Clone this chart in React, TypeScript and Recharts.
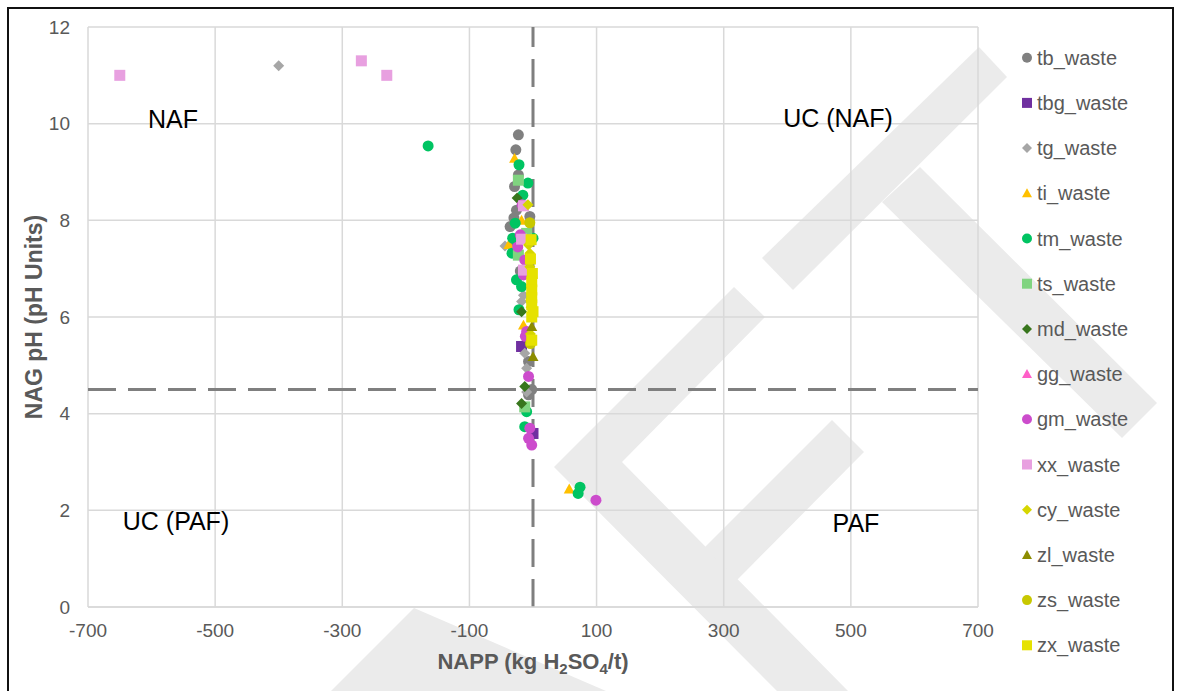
import React from 'react'
import { ScatterChart, Scatter, XAxis, YAxis, CartesianGrid, ReferenceLine } from 'recharts'

const xTicks = [-700, -500, -300, -100, 100, 300, 500, 700]
const yTicks = [0, 2, 4, 6, 8, 10, 12]

// [NAPP, NAG pH]
const tbWaste = [
  [-23, 9.77], [-27, 9.46], [-23, 8.94], [-29, 8.7], [-26, 8.21], [-5, 8.08], [-30, 8.05],
  [-36, 7.87], [-30, 7.55], [-20, 6.95], [-7, 5.08], [-2, 4.5], [-7, 4.39],
]
const tbgWaste = [[-18, 5.39], [0, 3.59]]
const tgWaste = [[-400, 11.2], [-44, 7.47], [-15, 6.45], [-18, 6.32], [-13, 5.25], [-10, 4.94], [-10, 4.45]]
const tiWaste = [[-29, 9.28], [-18, 8.0], [-38, 7.5], [-15, 5.83], [57, 2.44]]
const tmWaste = [
  [-165, 9.54], [-22, 9.15], [-8, 8.77], [-16, 8.52], [-28, 7.94], [-32, 7.63], [0, 7.63],
  [-33, 7.32], [-26, 6.77], [-18, 6.63], [-22, 6.15], [-10, 4.04], [-13, 3.73], [74, 2.48], [71, 2.35],
]
const tsWaste = [[-23, 8.83], [-10, 7.73], [-23, 7.28], [-13, 4.14]]
const mdWaste = [[-25, 8.46], [-18, 6.11], [-13, 4.56], [-18, 4.21]]
const ggWaste = [[-14, 7.05]]
const gmWaste = [
  [-17, 8.32], [-20, 7.7], [-24, 7.45], [-13, 7.18], [-15, 6.87], [-5, 6.9], [-12, 5.6], [-10, 5.7],
  [-7, 4.77], [-5, 3.7], [-7, 3.49], [-2, 3.35], [99, 2.21],
]
const xxWaste = [[-650, 11.0], [-270, 11.3], [-230, 11.0], [-15, 8.3], [-18, 7.61], [-15, 6.97]]
const cyWaste = [[-8, 8.32], [-7, 7.49], [-5, 7.32], [-5, 7.04], [-3, 6.2], [-4, 5.65]]
const zlWaste = [[-3, 6.7], [-2, 5.8], [0, 5.18]]
const zsWaste = [[-5, 7.95], [-3, 6.35], [-4, 5.45]]
const zxWaste = [
  [-3, 7.6], [-4, 7.2], [-1, 6.9], [-2, 6.73], [-2, 6.56], [-2, 6.4], [-2, 6.25], [0, 6.11],
  [-2, 6.0], [-2, 5.52],
]

type Shape = 'circle' | 'square' | 'diamond' | 'triangle'

const series: { name: string; shape: Shape; color: string; points: number[][] }[] = [
  { name: 'tb_waste', shape: 'circle', color: '#808080', points: tbWaste },
  { name: 'tbg_waste', shape: 'square', color: '#7030a0', points: tbgWaste },
  { name: 'tg_waste', shape: 'diamond', color: '#a6a6a6', points: tgWaste },
  { name: 'ti_waste', shape: 'triangle', color: '#ffc000', points: tiWaste },
  { name: 'tm_waste', shape: 'circle', color: '#00c462', points: tmWaste },
  { name: 'ts_waste', shape: 'square', color: '#80d480', points: tsWaste },
  { name: 'md_waste', shape: 'diamond', color: '#38761d', points: mdWaste },
  { name: 'gg_waste', shape: 'triangle', color: '#ff5fc8', points: ggWaste },
  { name: 'gm_waste', shape: 'circle', color: '#cc4ccc', points: gmWaste },
  { name: 'xx_waste', shape: 'square', color: '#e8a0e0', points: xxWaste },
  { name: 'cy_waste', shape: 'diamond', color: '#d6d600', points: cyWaste },
  { name: 'zl_waste', shape: 'triangle', color: '#8c8c00', points: zlWaste },
  { name: 'zs_waste', shape: 'circle', color: '#c8c800', points: zsWaste },
  { name: 'zx_waste', shape: 'square', color: '#e6e200', points: zxWaste },
]

const FONT = '"Liberation Sans", Arial, sans-serif'

function Marker({ cx, cy, shape, color, size }: { cx: number; cy: number; shape: Shape; color: string; size: number }) {
  const r = size / 2
  if (shape === 'circle') return <circle cx={cx} cy={cy} r={r} fill={color} />
  if (shape === 'square') return <rect x={cx - r} y={cy - r} width={size} height={size} fill={color} />
  if (shape === 'diamond')
    return <polygon points={`${cx},${cy - r} ${cx + r},${cy} ${cx},${cy + r} ${cx - r},${cy}`} fill={color} />
  return <polygon points={`${cx},${cy - r} ${cx + r},${cy + r * 0.8} ${cx - r},${cy + r * 0.8}`} fill={color} />
}

// watermark pieces (page pixels)
const watermark = [
  '762,258 979,47 1007,77 793,290',
  '882,202 920,167 1157,403 1122,438',
  '734,287 765,317 622,462 848,691 777,691 554,467',
  '832,420 864,452 737,580 705,547',
  '331,691 414,608 606,691',
]

const quadrantLabels = [
  { text: 'NAF', x: 173, y: 128 },
  { text: 'UC (NAF)', x: 838, y: 127 },
  { text: 'UC (PAF)', x: 176, y: 530 },
  { text: 'PAF', x: 856, y: 532 },
]

export default function App() {
  return (
    <div style={{ position: 'fixed', left: 0, top: 0, width: 1179, height: 691, overflow: 'hidden', background: '#fff' }}>
      <svg width={1179} height={691} style={{ position: 'absolute', left: 0, top: 0 }}>
        {watermark.map((p, i) => (
          <polygon key={i} points={p} fill="#ebebeb" />
        ))}
      </svg>
      <div style={{ position: 'absolute', left: 0, top: 0 }}>
        <ScatterChart width={1179} height={691} margin={{ top: 27, right: 201, bottom: 44, left: 28 }}>
          <CartesianGrid stroke="#d9d9d9" strokeWidth={1.5} />
          <XAxis
            type="number"
            dataKey="x"
            domain={[-700, 700]}
            ticks={xTicks}
            height={40}
            tickSize={0}
            tickMargin={17}
            axisLine={{ stroke: '#d9d9d9', strokeWidth: 1.5 }}
            tickLine={false}
            tick={{ fill: '#595959', fontSize: 19, fontFamily: FONT }}
          />
          <YAxis
            type="number"
            dataKey="y"
            domain={[0, 12]}
            ticks={yTicks}
            width={60}
            tickSize={0}
            tickMargin={18}
            axisLine={false}
            tickLine={false}
            tick={{ fill: '#595959', fontSize: 19, fontFamily: FONT }}
          />
          <ReferenceLine x={0} stroke="#7f7f7f" strokeWidth={3} strokeDasharray="28 12" />
          <ReferenceLine y={4.5} stroke="#7f7f7f" strokeWidth={3} strokeDasharray="28 12" />
          {series.map((s) => (
            <Scatter
              key={s.name}
              name={s.name}
              data={s.points.map(([x, y]) => ({ x, y }))}
              isAnimationActive={false}
              shape={(p: any) => <Marker cx={p.cx} cy={p.cy} shape={s.shape} color={s.color} size={11} />}
            />
          ))}
        </ScatterChart>
      </div>
      <svg width={1179} height={691} style={{ position: 'absolute', left: 0, top: 0, pointerEvents: 'none' }}>
        {quadrantLabels.map((l) => (
          <text key={l.text} x={l.x} y={l.y} textAnchor="middle" fontSize={25} fontFamily={FONT} fill="#000">
            {l.text}
          </text>
        ))}
        <text
          transform="translate(42,317) rotate(-90)"
          textAnchor="middle"
          fontSize={23}
          fontWeight="bold"
          fontFamily={FONT}
          fill="#595959"
        >
          NAG pH (pH Units)
        </text>
        <text x={533} y={669} textAnchor="middle" fontSize={22} fontWeight="bold" fontFamily={FONT} fill="#595959">
          NAPP (kg H
          <tspan fontSize={15} dy={5}>2</tspan>
          <tspan dy={-5}>SO</tspan>
          <tspan fontSize={15} dy={5}>4</tspan>
          <tspan dy={-5}>/t)</tspan>
        </text>
        {series.map((s, i) => {
          const cy = 57.7 + i * 45.2
          return (
            <g key={s.name}>
              <Marker cx={1027} cy={cy} shape={s.shape} color={s.color} size={10} />
              <text x={1037} y={cy + 7} fontSize={20} fontFamily={FONT} fill="#595959">
                {s.name}
              </text>
            </g>
          )
        })}
      </svg>
      <div
        style={{
          position: 'absolute',
          left: 7,
          top: 7,
          width: 1167,
          height: 700,
          border: '2px solid #111',
          boxSizing: 'border-box',
        }}
      />
    </div>
  )
}
